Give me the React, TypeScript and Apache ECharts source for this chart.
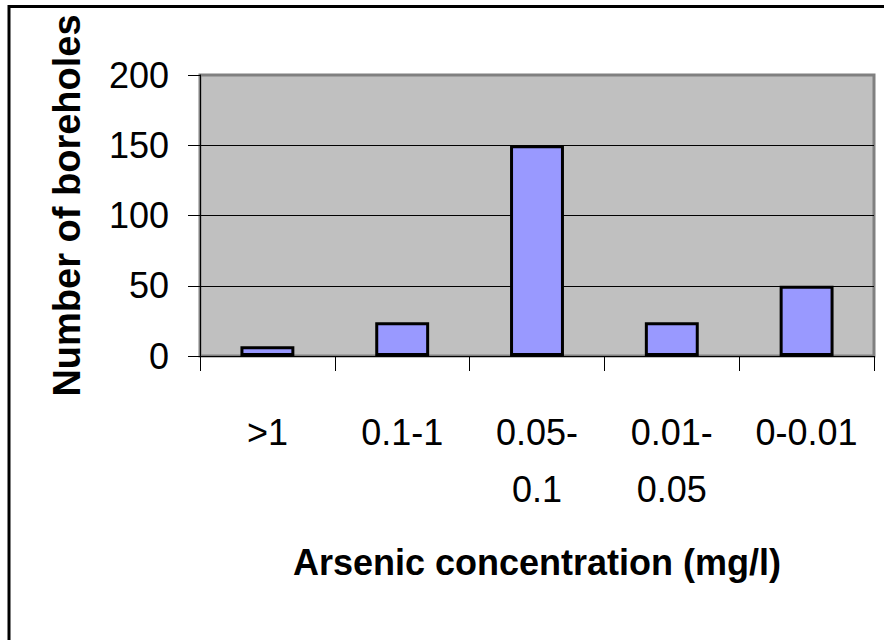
import React, { useEffect, useRef } from "react";
import * as echarts from "echarts";

const categories = [">1", "0.1-1", "0.05-\n0.1", "0.01-\n0.05", "0-0.01"];
const boreholes = [7, 24, 150, 24, 50];
const yMin = 0;
const yMax = 200;
const yStep = 50;
const xTitle = "Arsenic concentration (mg/l)";
const yTitle = "Number of boreholes";

const SANS = "'Liberation Sans', Arial, sans-serif";

export default function App() {
  const ref = useRef<HTMLDivElement>(null);
  useEffect(() => {
    if (!ref.current) return;
    const chart = echarts.init(ref.current, undefined, { renderer: "svg" });
    chart.setOption({
      animation: false,
      backgroundColor: "#ffffff",
      graphic: [
        {
          type: "rect",
          shape: { x: 9, y: 6.5, width: 1000, height: 1000 },
          style: { fill: "none", stroke: "#000000", lineWidth: 3 },
          z: 100,
        },
      ],
      grid: {
        left: 200,
        top: 75,
        right: 10,
        bottom: 284,
        show: true,
        backgroundColor: "#c0c0c0",
        borderColor: "#808080",
        borderWidth: 3,
      },
      xAxis: {
        type: "category",
        data: categories,
        boundaryGap: true,
        name: xTitle,
        nameLocation: "middle",
        nameGap: 188,
        nameTextStyle: {
          fontFamily: SANS,
          fontWeight: "bold",
          fontSize: 36,
          color: "#000000",
        },
        axisLine: { show: true, lineStyle: { color: "#000000", width: 1 } },
        axisTick: { show: true, alignWithLabel: false, length: 15, lineStyle: { color: "#000000", width: 1 } },
        axisLabel: {
          fontFamily: SANS,
          fontSize: 36,
          color: "#000000",
          margin: 48,
          lineHeight: 57,
          interval: 0,
          align: "center",
        },
        splitLine: { show: false },
      },
      yAxis: {
        type: "value",
        min: yMin,
        max: yMax,
        interval: yStep,
        name: yTitle,
        nameLocation: "middle",
        nameGap: 114,
        nameRotate: 90,
        nameTextStyle: {
          fontFamily: SANS,
          fontWeight: "bold",
          fontSize: 38,
          color: "#000000",
          padding: [0, 0, 0, 20],
        },
        axisLine: { show: true, lineStyle: { color: "#000000", width: 1 } },
        axisTick: { show: true, inside: false, length: 12, lineStyle: { color: "#000000", width: 1 } },
        axisLabel: {
          fontFamily: SANS,
          fontSize: 36,
          color: "#000000",
          margin: 31,
        },
        splitLine: {
          show: true,
          lineStyle: { color: ["#000000", "#000000", "#000000", "#000000", "#808080"], width: 1 },
        },
      },
      series: [
        {
          type: "bar",
          data: boreholes,
          barWidth: "40%",
          itemStyle: { color: "#9999ff", borderColor: "#000000", borderWidth: 3 },
        },
      ],
    });
    return () => chart.dispose();
  }, []);
  return (
    <div
      ref={ref}
      style={{ position: "absolute", left: 0, top: 0, width: 884, height: 640 }}
    />
  );
}
